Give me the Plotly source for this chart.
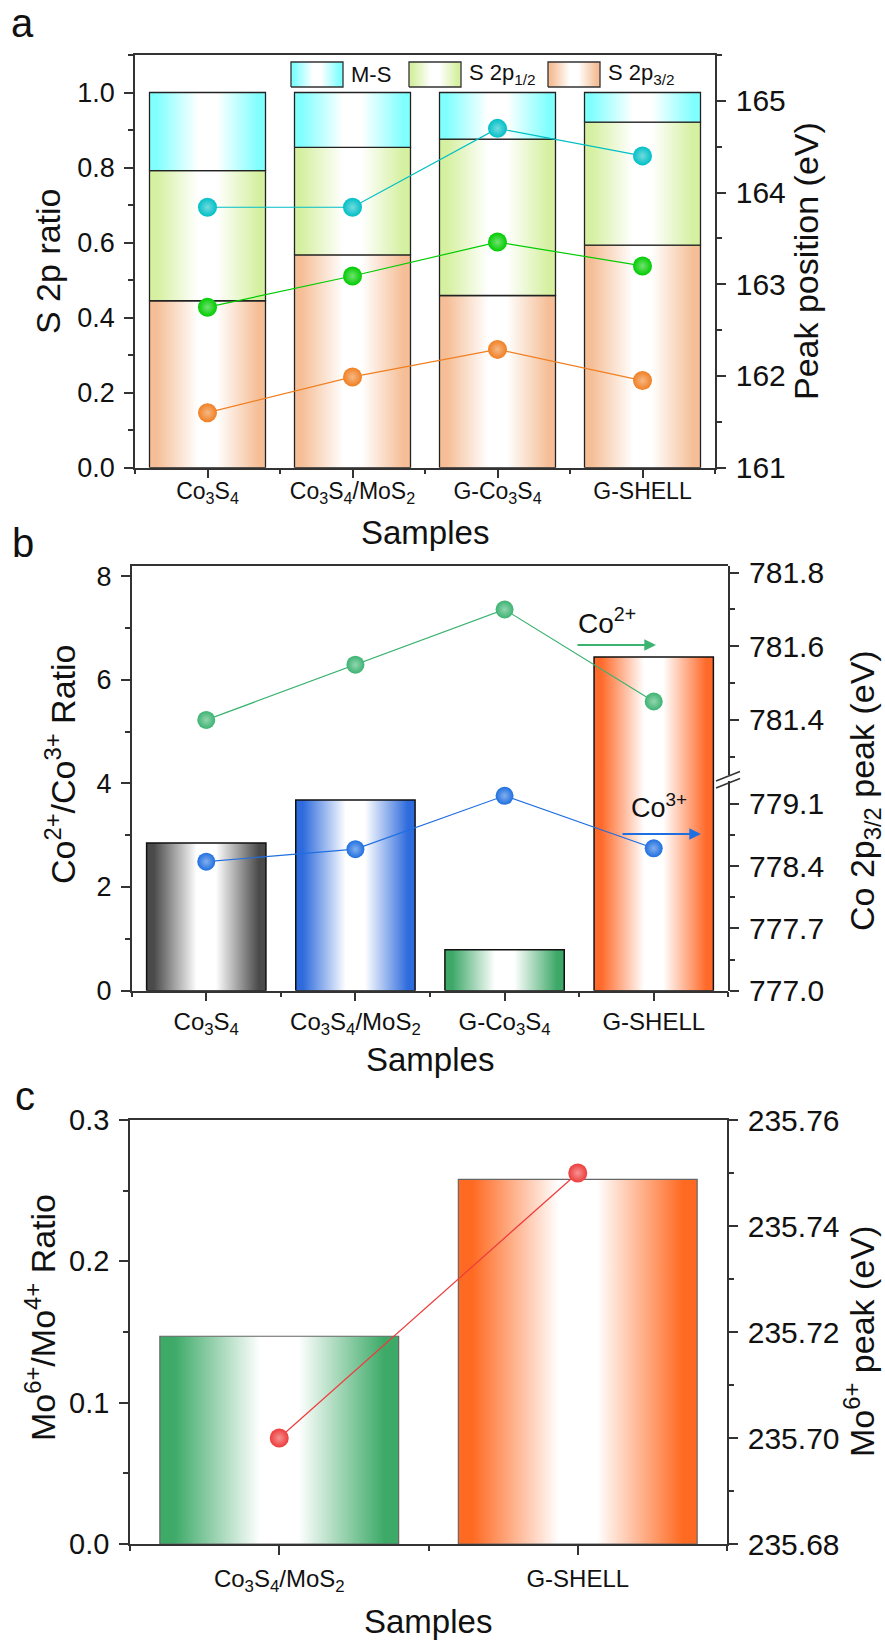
import plotly.graph_objects as go

W, H = 885, 1640
FONT = "Liberation Sans, Arial, sans-serif"
INK = "#111111"
AXIS = "#333333"


def fx(p):
    return p / W


def fy(p):
    return 1 - p / H


# ---------------- panel a: S 2p components ----------------
samples_a = ["Co<sub>3</sub>S<sub>4</sub>",
             "Co<sub>3</sub>S<sub>4</sub>/MoS<sub>2</sub>",
             "G-Co<sub>3</sub>S<sub>4</sub>",
             "G-SHELL"]
s2p32_ratio = [0.445, 0.567, 0.459, 0.593]
s2p12_ratio = [0.347, 0.287, 0.417, 0.328]
ms_ratio = [0.208, 0.146, 0.124, 0.079]
ms_peak = [163.84, 163.84, 164.70, 164.40]
s2p12_peak = [162.75, 163.09, 163.46, 163.20]
s2p32_peak = [161.60, 161.99, 162.29, 161.95]
series_a = ["M-S", "S 2p<sub>1/2</sub>", "S 2p<sub>3/2</sub>"]

# ---------------- panel b: Co 2p ----------------
samples_b = samples_a
co_ratio = [2.85, 3.68, 0.79, 6.44]
co2_peak = [781.40, 781.55, 781.70, 781.45]
co3_peak = [778.45, 778.59, 779.19, 778.60]

# ---------------- panel c: Mo 3d ----------------
samples_c = ["Co<sub>3</sub>S<sub>4</sub>/MoS<sub>2</sub>", "G-SHELL"]
mo_ratio = [0.147, 0.258]
mo6_peak = [235.700, 235.750]

BAR_W = 0.8


def rect(xc, half, lo, hi):
    return [xc - half, xc + half, xc + half, xc - half, xc - half], [lo, lo, hi, hi, lo]


def fade(c):
    return [[0, c], [0.06, c], [0.42, "#ffffff"], [0.58, "#ffffff"], [0.94, c], [1, c]]


def mix(c, t):
    c = c.lstrip("#")
    r, g, b = (int(c[k:k + 2], 16) for k in (0, 2, 4))
    return "rgb(%d,%d,%d)" % (r + (255 - r) * t, g + (255 - g) * t, b + (255 - b) * t)


def box_trace(xs, ys, color, xa, ya, edge="#222222", ew=1.3):
    return go.Scatter(
        x=xs, y=ys, xaxis=xa, yaxis=ya, mode="lines", fill="toself",
        fillgradient=dict(type="horizontal", colorscale=fade(color)),
        line=dict(color=edge, width=ew), showlegend=False, hoverinfo="skip")


def bar_trace(i, lo, hi, color, xa, ya, **kw):
    xs, ys = rect(i, BAR_W / 2, lo, hi)
    return box_trace(xs, ys, color, xa, ya, **kw)


def dot_line(xs, ys, color, xa, ya, size=19):
    return go.Scatter(
        x=xs, y=ys, xaxis=xa, yaxis=ya, mode="lines+markers",
        line=dict(color=color, width=1.2),
        marker=dict(size=size, color=color, line=dict(width=0),
                    gradient=dict(type="radial", color=mix(color, 0.45))),
        showlegend=False, hoverinfo="skip")


fig = go.Figure()

# panel a stacked bars
C_32, C_12, C_MS = "#F5BE96", "#D5F0A0", "#80FFFF"
for i in range(len(samples_a)):
    b1 = s2p32_ratio[i]
    b2 = b1 + s2p12_ratio[i]
    b3 = b2 + ms_ratio[i]
    fig.add_trace(bar_trace(i, 0, b1, C_32, "x", "y"))
    fig.add_trace(bar_trace(i, b1, b2, C_12, "x", "y"))
    fig.add_trace(bar_trace(i, b2, b3, C_MS, "x", "y"))

xi_a = list(range(len(samples_a)))
fig.add_trace(dot_line(xi_a, ms_peak, "#00BFC6", "x", "y2"))
fig.add_trace(dot_line(xi_a, s2p12_peak, "#00CC00", "x", "y2"))
fig.add_trace(dot_line(xi_a, s2p32_peak, "#F07F22", "x", "y2"))

# panel b bars
bar_cols_b = ["#4A4A4A", "#2E6BDD", "#3DA868", "#FF6A2A"]
for i, v in enumerate(co_ratio):
    fig.add_trace(bar_trace(i, 0, v, bar_cols_b[i], "x2", "y3", edge="#111111", ew=1.5))
xi_b = list(range(len(samples_b)))
fig.add_trace(dot_line(xi_b, co2_peak, "#3CB371", "x2", "y4", 18))
fig.add_trace(dot_line(xi_b, co3_peak, "#1F6FE0", "x2", "y5", 18))

# panel c bars
bar_cols_c = ["#3DAA68", "#FF6A22"]
for i, v in enumerate(mo_ratio):
    fig.add_trace(bar_trace(i, 0, v, bar_cols_c[i], "x3", "y6", edge="#666666", ew=1.2))
xi_c = list(range(len(samples_c)))
fig.add_trace(dot_line(xi_c, mo6_peak, "#EE3B3B", "x3", "y7", 19))

# legend keys for panel a, laid out on a pixel-unit overlay axis
KEY_LEFT = [291, 409, 548]
KEY_W, KEY_TOP, KEY_BOT = 52, 62, 87
for left, col in zip(KEY_LEFT, [C_MS, C_12, C_32]):
    xs, ys = rect(left + KEY_W / 2, KEY_W / 2, KEY_BOT, KEY_TOP)
    fig.add_trace(box_trace(xs, ys, col, "x4", "y8", edge="#333333", ew=1.3))

# ---------------- axes ----------------
common = dict(showline=True, linecolor=AXIS, linewidth=1.5, ticks="outside",
              ticklen=9, tickwidth=1.5, tickcolor=AXIS, showgrid=False,
              zeroline=False, color=INK, ticklabelstandoff=4, automargin=False)


def cat_axis(n, labels, dom, anchor, size, standoff):
    d = dict(common, domain=dom, anchor=anchor, range=[-0.5, n - 0.5],
             tickmode="array", tickvals=list(range(n)), ticktext=labels,
             mirror=True, tickfont=dict(size=size),
             minor=dict(tickmode="array", tickvals=[k - 0.5 for k in range(n + 1)],
                        ticks="outside", ticklen=5, tickwidth=1.5, tickcolor=AXIS))
    d["ticklabelstandoff"] = standoff
    return d


def val_axis(dom, rng, dtick, mdtick, fmt, size, anchor, tick0=0, **kw):
    return dict(common, domain=dom, range=rng, anchor=anchor, tick0=tick0,
                dtick=dtick, tickformat=fmt, tickfont=dict(size=size),
                minor=dict(tick0=tick0, dtick=mdtick, ticks="outside", ticklen=5,
                           tickwidth=1.5, tickcolor=AXIS), **kw)


# panel a geometry
a_dom_x = [fx(135), fx(715)]
a_dom_y = [fy(467.7), fy(55)]
# panel b geometry
b_dom_x = [fx(131.7), fx(728.3)]
b_dom_y = [fy(990.7), fy(565.7)]
b_up = [fy(775.1), fy(565.7)]
b_lo = [fy(990.7), fy(781)]
# panel c geometry
c_dom_x = [fx(130), fx(727)]
c_dom_y = [fy(1544), fy(1120)]

fig.update_layout(
    xaxis=cat_axis(4, samples_a, a_dom_x, "y", 23, -7),
    yaxis=val_axis(a_dom_y, [0, 1.1], 0.2, 0.1, ".1f", 27, "x"),
    yaxis2=val_axis(a_dom_y, [161, 165.5], 1, 0.5, "d", 30, "x",
                    overlaying="y", side="right"),
    xaxis2=cat_axis(4, samples_b, b_dom_x, "y3", 24, 0),
    yaxis3=val_axis(b_dom_y, [0, 8.2], 2, 1, "d", 27, "x2"),
    yaxis4=val_axis(b_up, [781.25, 781.819], 0.2, 0.1, ".1f", 30, "x2",
                    tick0=781.0, side="right"),
    yaxis5=val_axis(b_lo, [777.0, 779.356], 0.7, 0.35, ".1f", 30, "x2",
                    tick0=777.0, side="right"),
    xaxis3=cat_axis(2, samples_c, c_dom_x, "y6", 24, 3),
    yaxis6=val_axis(c_dom_y, [0, 0.3], 0.1, 0.05, ".1f", 29, "x3"),
    yaxis7=val_axis(c_dom_y, [235.68, 235.76], 0.02, 0.01, ".2f", 30, "x3",
                    tick0=235.68, overlaying="y6", side="right"),
    xaxis4=dict(domain=[0, 1], range=[0, W], visible=False, anchor="y8",
                fixedrange=True, automargin=False),
    yaxis8=dict(domain=[0, 1], range=[H, 0], visible=False, anchor="x4",
                fixedrange=True, automargin=False),
)

fig.update_layout(
    width=W, height=H, margin=dict(l=0, r=0, t=0, b=0, autoexpand=False),
    paper_bgcolor="white", plot_bgcolor="rgba(0,0,0,0)",
    font=dict(family=FONT, color=INK),
    showlegend=False,
)

# ---------------- text ----------------
ann = []


def txt(x, y, s, size, angle=0, color=INK, anchor="center"):
    ann.append(dict(x=fx(x), y=fy(y), xref="paper", yref="paper", text=s,
                    showarrow=False, textangle=angle, xanchor=anchor,
                    yanchor="middle", font=dict(size=size, color=color, family=FONT)))


txt(22, 23, "a", 40)
txt(23, 543, "b", 40)
txt(25, 1096, "c", 40)

for left, name in zip(KEY_LEFT, series_a):
    txt(left + KEY_W + 6, (KEY_TOP + KEY_BOT) / 2, name, 22, anchor="left")

txt(48, 261, "S 2p ratio", 34, -90)
txt(806, 261, "Peak position (eV)", 34, -90)
txt(425, 532, "Samples", 33)

txt(60, 764, "Co<sup>2+</sup>/Co<sup>3+</sup> Ratio", 34, -90)
txt(864, 791, "Co 2p<sub>3/2</sub> peak (eV)", 34, -90)
txt(430, 1059, "Samples", 33)

txt(40, 1318, "Mo<sup>6+</sup>/Mo<sup>4+</sup> Ratio", 34, -90)
txt(859, 1342, "Mo<sup>6+</sup> peak (eV)", 34, -90)
txt(428, 1621, "Samples", 33)

txt(607, 621, "Co<sup>2+</sup>", 28)
txt(659, 806, "Co<sup>3+</sup>", 27)

# direction arrows for the two Co series
for (xh, yh, col) in [(656, 645, "#3CB371"), (701, 834, "#1F6FE0")]:
    ann.append(dict(x=fx(xh), y=fy(yh), xref="paper", yref="paper", text="",
                    showarrow=True, ax=-80, ay=0, arrowhead=2, arrowsize=1.3,
                    arrowwidth=1.8, arrowcolor=col))

fig.update_layout(annotations=ann)

# axis break marks on the right axis of panel b
shapes = []
for dy in (0, 7):
    shapes.append(dict(type="line", xref="paper", yref="paper",
                       x0=fx(716), y0=fy(781 + dy), x1=fx(740), y1=fy(771.5 + dy),
                       line=dict(color=AXIS, width=1.5)))
fig.update_layout(shapes=shapes)

fig.write_html("out.html")
